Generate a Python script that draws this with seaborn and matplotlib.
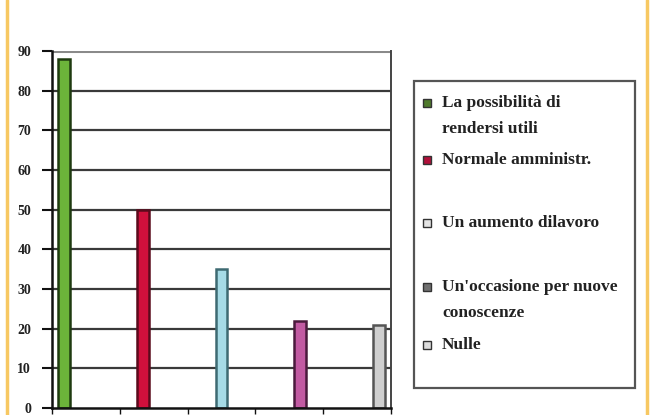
import matplotlib
matplotlib.use("Agg")
import matplotlib.pyplot as plt
import matplotlib.patches as mpatches
from matplotlib.lines import Line2D
import pandas as pd
import seaborn as sns

# Answers and their percentages
categories = ["La possibilità di\nrendersi utili", "Normale amministr.",
              "Un aumento dilavoro", "Un'occasione per nuove\nconoscenze", "Nulle"]
values = [88, 50, 35, 22, 21]
bar_colors = ["#6cb43a", "#d0103c", "#a6dbe6", "#c25aa2", "#cfcfcf"]
edge_colors = ["#1e3a10", "#5a0a1c", "#3e6a72", "#4a1a3c", "#555555"]
legend_colors = ["#4f7a2c", "#b0103a", "#e4e4e4", "#707070", "#dcdcdc"]
y_ticks = [0, 10, 20, 30, 40, 50, 60, 70, 80, 90]

# Each answer sits in its own slot, dodged by series like a clustered chart
df = pd.DataFrame({
    "slot": [str(i) for i in range(len(values))],
    "answer": categories,
    "value": values,
})

sns.set_theme(style="white")
plt.rcParams["font.family"] = ["Liberation Serif", "DejaVu Serif"]
plt.rcParams["font.weight"] = "bold"

fig = plt.figure(figsize=(6.5, 4.15), dpi=100)
fig.patch.set_facecolor("white")
ax = fig.add_axes([0.08, 0.017, 0.5215, 0.86])

sns.barplot(data=df, x="slot", y="value", hue="answer", hue_order=categories,
            palette=bar_colors, dodge=True, width=0.8, legend=False, ax=ax,
            saturation=1)

for patch, ec in zip(ax.patches, edge_colors):
    patch.set_edgecolor(ec)
    patch.set_linewidth(1.8)
    cx = patch.get_x() + patch.get_width() / 2
    w = patch.get_width() * 1.1
    patch.set_x(cx - w / 2)
    patch.set_width(w)

ax.set_xlim(-0.5, 4.5)
ax.set_ylim(0, 90)
ax.set_yticks(y_ticks)
ax.set_yticklabels([str(t) for t in y_ticks], fontsize=10, fontweight="bold",
                   color="#222222")
ax.set_xticks([-0.5, 0.5, 1.5, 2.5, 3.5, 4.5])
ax.set_xticklabels([])
ax.set_xlabel("")
ax.set_ylabel("")
ax.tick_params(axis="y", left=True, length=7, width=1.5, color="#111111", pad=8)
ax.tick_params(axis="x", bottom=True, length=4, width=1, color="#111111")

for t in y_ticks[1:-1]:
    ax.axhline(t, color="#3a3a3a", linewidth=1.6, zorder=0)
ax.axhline(90, color="#8a8a8a", linewidth=2.2, zorder=0)

ax.spines["top"].set_visible(False)
ax.spines["left"].set_color("#111111")
ax.spines["left"].set_linewidth(1.8)
ax.spines["bottom"].set_color("#111111")
ax.spines["bottom"].set_linewidth(1.8)
ax.spines["right"].set_color("#444444")
ax.spines["right"].set_linewidth(1.4)

# Legend box with hand-placed entries
W, H = 650, 415
def fx(px):
    return px / W
def fy(py):
    return 1 - py / H

box = mpatches.Rectangle((fx(414), fy(388)), fx(635) - fx(414), fy(81) - fy(388),
                         transform=fig.transFigure, facecolor="white",
                         edgecolor="#555555", linewidth=1.6)
fig.patches.append(box)

entry_y = [103, 160, 223, 287, 345]
for label, col, py in zip(categories, legend_colors, entry_y):
    sw = mpatches.Rectangle((fx(423), fy(py + 4)), fx(8), 8 / H,
                            transform=fig.transFigure, facecolor=col,
                            edgecolor="#333333", linewidth=1.0)
    fig.patches.append(sw)
    fig.text(fx(442), fy(py - 8), label, fontsize=12.5, fontweight="bold",
             color="#222222", va="top", ha="left", linespacing=1.8,
             transform=fig.transFigure)

# Orange frame edges
for px in (7, 647):
    fig.lines.append(Line2D([fx(px), fx(px)], [0, 1], transform=fig.transFigure,
                            color="#f7c862", linewidth=2.5))

fig.savefig("out.png", dpi=100, facecolor="white")
